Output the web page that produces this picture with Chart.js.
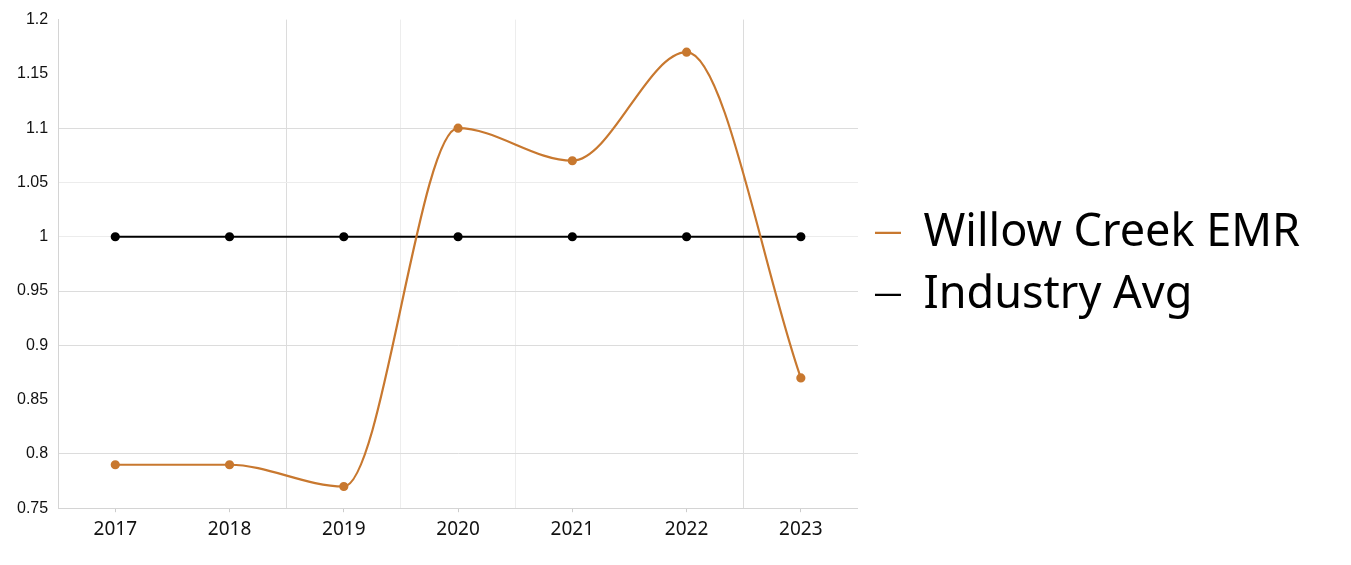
<!DOCTYPE html>
<html lang="en">
<head>
    <meta charset="UTF-8">
    <title>Willow Creek EMR vs Industry Avg</title>
    <script src="https://cdn.jsdelivr.net/npm/chart.js"></script>
    <style>
        html, body { margin: 0; padding: 0; background: #fff; }
        .chart-box { width: 1351px; height: 565px; }
    </style>
</head>
<body>
    <div class="chart-box"><canvas id="emrChart"></canvas></div>
    <script>
        // data
        const years = ['2017', '2018', '2019', '2020', '2021', '2022', '2023'];
        const willowCreek = [0.79, 0.79, 0.77, 1.10, 1.07, 1.17, 0.87];
        const industryAvg = [1, 1, 1, 1, 1, 1, 1];
        const yMin = 0.75;
        const yMax = 1.2;
        const yStep = 0.05;

        // gridlines in the picture are not all equally visible
        const vGrid = ['rgba(0,0,0,0)', 'rgba(0,0,0,0)', '#dcdcdc', '#ededed', '#ededed', 'rgba(0,0,0,0)', '#dcdcdc', 'rgba(0,0,0,0)'];
        const hGrid = ['#d6d6d6', '#dcdcdc', 'rgba(0,0,0,0)', '#dcdcdc', '#dcdcdc', '#ececec', '#ececec', '#dcdcdc', 'rgba(0,0,0,0)', 'rgba(0,0,0,0)'];

        new Chart(document.getElementById('emrChart'), {
            type: 'line',
            data: {
                labels: years,
                datasets: [{
                    label: 'Willow Creek EMR',
                    data: willowCreek,
                    borderColor: '#c8782f',
                    backgroundColor: '#c8782f',
                    borderWidth: 2.2,
                    pointRadius: 3.5,
                    cubicInterpolationMode: 'monotone'
                }, {
                    label: 'Industry Avg',
                    data: industryAvg,
                    borderColor: '#000000',
                    backgroundColor: '#000000',
                    borderWidth: 2.2,
                    pointRadius: 3.5
                }]
            },
            options: {
                responsive: true,
                maintainAspectRatio: false,
                animation: false,
                layout: { padding: { left: 7, top: 10, right: 41, bottom: 18 } },
                plugins: {
                    tooltip: { enabled: false },
                    legend: {
                        position: 'right',
                        fullSize: false,
                        maxWidth: 600,
                        labels: {
                            usePointStyle: true,
                            pointStyle: 'line',
                            pointStyleWidth: 26,
                            padding: 17,
                            color: '#000',
                            font: { family: 'Noto Sans', size: 45 }
                        }
                    }
                },
                scales: {
                    x: {
                        offset: true,
                        weight: 1,
                        border: { display: false },
                        grid: {
                            offset: true,
                            drawTicks: false,
                            color: ctx => vGrid[ctx.index] || 'rgba(0,0,0,0)'
                        },
                        ticks: {
                            padding: 6,
                            color: '#111',
                            font: { family: 'Noto Sans', size: 19 }
                        }
                    },
                    x2: {
                        type: 'category',
                        labels: years,
                        position: 'bottom',
                        offset: true,
                        weight: 0,
                        border: { display: true, color: '#d4d4d4' },
                        grid: { offset: false, drawOnChartArea: false, tickLength: 4, color: '#cccccc' },
                        ticks: { display: false }
                    },
                    y: {
                        min: yMin,
                        max: yMax,
                        border: { display: true, color: '#d4d4d4' },
                        grid: {
                            drawTicks: false,
                            color: ctx => hGrid[ctx.index] || 'rgba(0,0,0,0)'
                        },
                        ticks: {
                            stepSize: yStep,
                            padding: 10,
                            color: '#111',
                            font: { family: 'Liberation Sans', size: 16 },
                            callback: v => String(+Number(v).toFixed(2))
                        }
                    }
                }
            }
        });
    </script>
</body>
</html>
